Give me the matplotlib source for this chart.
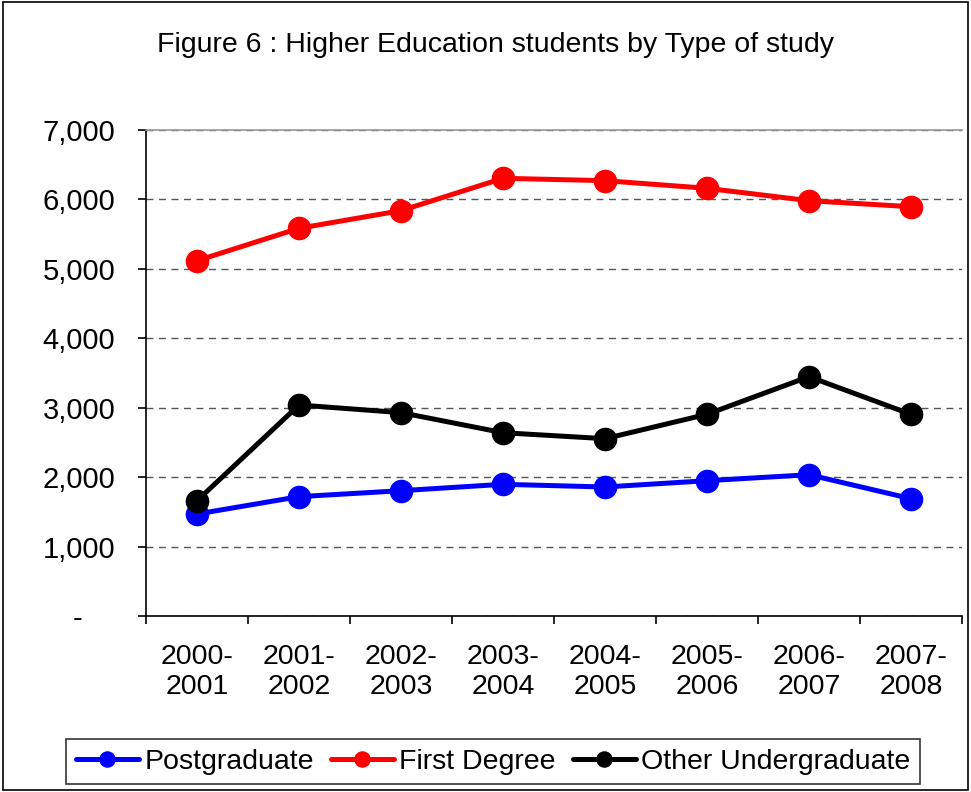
import numpy as np
import matplotlib
matplotlib.use('Agg')
import matplotlib.pyplot as plt
from matplotlib.patches import Rectangle

plt.rcParams['font.family'] = ['Liberation Sans', 'DejaVu Sans']

years = ['2000-\n2001', '2001-\n2002', '2002-\n2003', '2003-\n2004',
         '2004-\n2005', '2005-\n2006', '2006-\n2007', '2007-\n2008']
postgraduate = [1469, 1719, 1805, 1897, 1858, 1949, 2035, 1690]
first_degree = [5117, 5584, 5838, 6304, 6270, 6160, 5982, 5895]
other_undergraduate = [1661, 3039, 2929, 2640, 2554, 2905, 3447, 2905]

fig = plt.figure(figsize=(9.71, 7.92), dpi=100)
ax = fig.add_axes([0.1504, 0.2222, 0.8403, 0.6137])

x = np.arange(len(years))
series = [(postgraduate, '#0000FF', 'Postgraduate'),
          (first_degree, '#FF0000', 'First Degree'),
          (other_undergraduate, '#000000', 'Other Undergraduate')]
for vals, col, lab in series:
    ax.plot(x, vals, color=col, lw=3.6, marker='o', ms=16, label=lab,
            solid_capstyle='round', zorder=3)

ax.set_xlim(-0.5, len(years) - 0.5)
ax.set_ylim(0, 7000)
yt = np.arange(0, 8000, 1000)
ax.set_yticks(yt)
# accounting style: zero shown as a dash sitting left of the numbers
ax.set_yticklabels(['-    '] + [f'{v:,}' for v in yt[1:]])
ax.yaxis.grid(True, color='#555555', ls=(0, (5, 4)), lw=1)
ax.set_axisbelow(True)

ax.set_xticks(x)
ax.set_xticklabels(years)
ax.set_xticks(np.arange(-0.5, len(years)), minor=True)
ax.tick_params(axis='x', which='major', length=0, pad=20, labelsize=20.5)
ax.tick_params(axis='x', which='minor', length=6, width=1.2, direction='out')
ax.tick_params(axis='y', length=6, width=1.2, direction='out', pad=16, labelsize=21)

ax.spines['right'].set_visible(False)
ax.spines['top'].set_color('#999999')
ax.spines['top'].set_linewidth(1.2)
for s in ['left', 'bottom']:
    ax.spines[s].set_linewidth(1.2)

fig.text(0.5098, 0.943, 'Figure 6 : Higher Education students by Type of study',
         ha='center', va='center', fontsize=20.5)

leg = fig.legend(loc='center', bbox_to_anchor=(0.508, 0.0385), ncol=3,
                 fontsize=20.5, frameon=True, fancybox=False, edgecolor='black',
                 handlelength=2.2, handletextpad=0.2, columnspacing=0.6,
                 markerscale=0.68, borderpad=0.35, borderaxespad=0)
leg.get_frame().set_linewidth(1.2)

fig.patches.append(Rectangle((0.003, 0.002), 0.994, 0.995, transform=fig.transFigure,
                             fill=False, edgecolor='black', lw=1.2))

fig.savefig('out.png', dpi=100)
